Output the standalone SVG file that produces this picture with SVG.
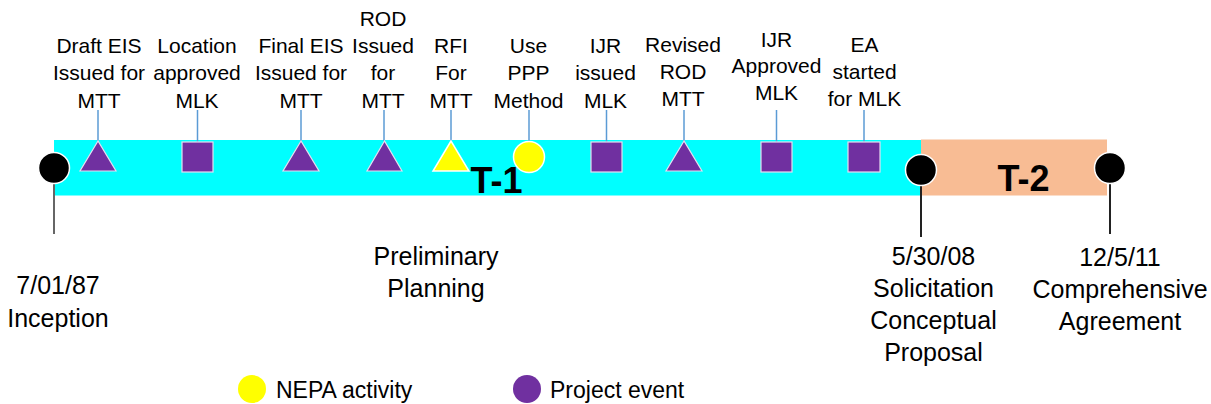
<svg xmlns="http://www.w3.org/2000/svg" width="1211" height="404" viewBox="0 0 1211 404">
  <style>
    text { font-family: "Liberation Sans", Arial, sans-serif; fill: #000; text-anchor: middle; }
    .lbl { font-size: 21px; }
    .big { font-size: 25px; }
    .leg { font-size: 23px; text-anchor: start; }
    .phase { font-size: 36px; font-weight: bold; }
    .tick { stroke: #5B9BD5; stroke-width: 1.5; fill: none; }
    .stem { stroke-width: 2; fill: none; }
    .proj { fill: #7030A0; stroke: #E6DDF0; stroke-width: 1.2; }
    .nepa { fill: #FFFF00; stroke: #FFFFFF; stroke-width: 1.5; }
    .mile { fill: #000; stroke: #FFFFFF; stroke-width: 1.5; }
  </style>

  <!-- phase bars -->
  <g id="phase-t1">
    <rect x="54" y="140" width="867" height="55.5" fill="#00FFFF"/>
    <text class="phase" x="496.5" y="193">T-1</text>
  </g>
  <g id="phase-t2">
    <rect x="921" y="139.5" width="186" height="56" fill="#F8BC94"/>
    <text class="phase" x="1023.5" y="191">T-2</text>
  </g>

  <!-- connectors: label ticks and milestone stems -->
  <g id="connectors">
    <line class="tick" x1="98" y1="110" x2="98" y2="141"/>
    <line class="tick" x1="197.5" y1="110" x2="197.5" y2="142"/>
    <line class="tick" x1="301" y1="110" x2="301" y2="141"/>
    <line class="tick" x1="384" y1="110" x2="384" y2="141"/>
    <line class="tick" x1="451" y1="110" x2="451" y2="141"/>
    <line class="tick" x1="529" y1="110" x2="529" y2="142"/>
    <line class="tick" x1="606.5" y1="110" x2="606.5" y2="142"/>
    <line class="tick" x1="684" y1="110" x2="684" y2="141"/>
    <line class="tick" x1="776.5" y1="110" x2="776.5" y2="142"/>
    <line class="tick" x1="864" y1="110" x2="864" y2="142"/>
    <line class="stem" stroke="#666666" x1="54" y1="182" x2="54" y2="234"/>
    <line class="stem" stroke="#222222" x1="921" y1="184" x2="921" y2="237"/>
    <line class="stem" stroke="#222222" x1="1110" y1="182" x2="1110" y2="234"/>
  </g>

  <!-- milestones -->
  <g id="m-inception">
    <circle class="mile" cx="54" cy="168" r="15.5"/>
    <text class="big" x="58" y="294">7/01/87</text>
    <text class="big" x="58" y="327">Inception</text>
  </g>
  <g id="m-solicitation">
    <circle class="mile" cx="921" cy="170" r="15.5"/>
    <text class="big" x="933.5" y="265">5/30/08</text>
    <text class="big" x="933.5" y="297">Solicitation</text>
    <text class="big" x="933.5" y="329">Conceptual</text>
    <text class="big" x="933.5" y="361">Proposal</text>
  </g>
  <g id="m-agreement">
    <circle class="mile" cx="1110" cy="168" r="15.5"/>
    <text class="big" x="1120" y="266">12/5/11</text>
    <text class="big" x="1120" y="298">Comprehensive</text>
    <text class="big" x="1120" y="330">Agreement</text>
  </g>
  <g id="preliminary-planning">
    <text class="big" x="436" y="265">Preliminary</text>
    <text class="big" x="436" y="297">Planning</text>
  </g>

  <!-- events -->
  <g id="e-draft-eis">
    <polygon class="proj" points="98,141 80,171 116,171"/>
    <text class="lbl" x="99" y="53">Draft EIS</text>
    <text class="lbl" x="99" y="80">Issued for</text>
    <text class="lbl" x="99" y="108">MTT</text>
  </g>
  <g id="e-location">
    <rect class="proj" x="182" y="142" width="31" height="30"/>
    <text class="lbl" x="197" y="53">Location</text>
    <text class="lbl" x="197" y="80">approved</text>
    <text class="lbl" x="197" y="108">MLK</text>
  </g>
  <g id="e-final-eis">
    <polygon class="proj" points="301,141 283,171 319,171"/>
    <text class="lbl" x="301" y="53">Final EIS</text>
    <text class="lbl" x="301" y="80">Issued for</text>
    <text class="lbl" x="301" y="108">MTT</text>
  </g>
  <g id="e-rod">
    <polygon class="proj" points="384.5,141 367,171 402,171"/>
    <text class="lbl" x="383" y="26">ROD</text>
    <text class="lbl" x="383" y="53">Issued</text>
    <text class="lbl" x="383" y="80">for</text>
    <text class="lbl" x="383" y="108">MTT</text>
  </g>
  <g id="e-rfi">
    <polygon class="nepa" points="451,141 433,171 469,171"/>
    <text class="lbl" x="451" y="53">RFI</text>
    <text class="lbl" x="451" y="80">For</text>
    <text class="lbl" x="451" y="108">MTT</text>
  </g>
  <g id="e-ppp">
    <circle class="nepa" cx="529" cy="157" r="15.5"/>
    <text class="lbl" x="528.5" y="53">Use</text>
    <text class="lbl" x="528.5" y="80">PPP</text>
    <text class="lbl" x="528.5" y="108">Method</text>
  </g>
  <g id="e-ijr-issued">
    <rect class="proj" x="591" y="142" width="31" height="30"/>
    <text class="lbl" x="605.5" y="53">IJR</text>
    <text class="lbl" x="605.5" y="80">issued</text>
    <text class="lbl" x="605.5" y="108">MLK</text>
  </g>
  <g id="e-revised-rod">
    <polygon class="proj" points="684,141 666,171 702,171"/>
    <text class="lbl" x="683" y="52">Revised</text>
    <text class="lbl" x="683" y="79">ROD</text>
    <text class="lbl" x="683" y="106">MTT</text>
  </g>
  <g id="e-ijr-approved">
    <rect class="proj" x="761" y="142" width="31" height="30"/>
    <text class="lbl" x="776.5" y="47">IJR</text>
    <text class="lbl" x="776.5" y="73">Approved</text>
    <text class="lbl" x="776.5" y="100">MLK</text>
  </g>
  <g id="e-ea">
    <rect class="proj" x="848" y="142" width="32" height="30"/>
    <text class="lbl" x="864.5" y="52">EA</text>
    <text class="lbl" x="864.5" y="79">started</text>
    <text class="lbl" x="864.5" y="106">for MLK</text>
  </g>

  <!-- legend -->
  <g id="legend-nepa">
    <circle cx="252" cy="389" r="14" fill="#FFFF00"/>
    <text class="leg" x="276" y="398">NEPA activity</text>
  </g>
  <g id="legend-project">
    <circle cx="527" cy="389" r="14" fill="#7030A0"/>
    <text class="leg" x="550" y="398">Project event</text>
  </g>
</svg>
